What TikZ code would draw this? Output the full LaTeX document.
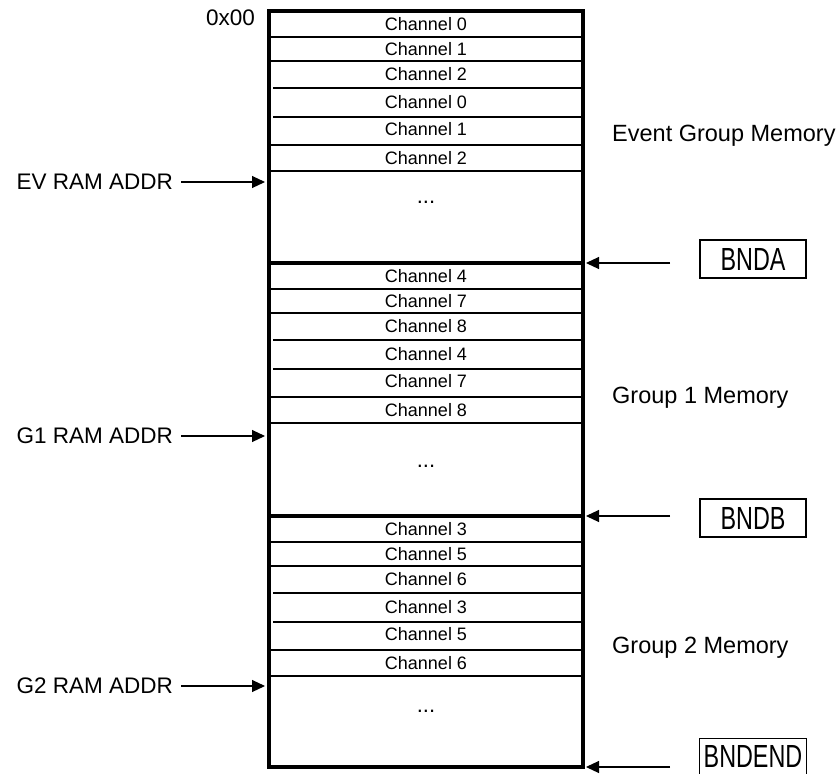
\documentclass[tikz,border=0pt]{standalone}
\usepackage{fontspec}
\setmainfont{Liberation Sans}
\newfontfamily\narrowfont[FakeStretch=0.73]{Liberation Sans}
\usetikzlibrary{arrows.meta}
\tikzset{
  chan/.style={font=\fontsize{18}{18}\selectfont, inner sep=0pt},
  memlbl/.style={font=\fontsize{23.5}{24}\selectfont, anchor=base west, inner sep=0pt},
  addrlbl/.style={font=\fontsize{22.5}{24}\selectfont, anchor=east, inner sep=0pt, outer xsep=8pt},
  bndbox/.style={draw, line width=1.1pt, minimum width=106pt, minimum height=38pt, inner sep=0pt, font=\narrowfont\fontsize{32}{32}\selectfont},
  border/.style={line width=3.5pt},
  rowline/.style={line width=2pt},
  ptr/.style={-{Triangle[length=13pt,width=12pt]}, line width=1.1pt},
}
\begin{document}
\begin{tikzpicture}[x=1pt, y=-1pt]
\useasboundingbox (0,0) rectangle (839,774);
%
% memory block
\draw[border] (269,11) rectangle (583,767);
\draw[border] (269,263) -- (583,263);
\draw[border] (269,516) -- (583,516);
%
% channel rows of the three groups
\foreach \g/\top/\ca/\cb/\cc in {ev/11/0/1/2, ga/263/4/7/8, gb/516/3/5/6} {
  \foreach \off/\xa/\xb in {26/269/583, 50/269/583, 77/273/583, 106/273/583, 134/267/581, 160/269/583}
    \draw[rowline] (\xa,\top+\off) -- (\xb,\top+\off);
  \node[chan] (\g-1) at (426,\top+13)  {Channel \ca};
  \node[chan] (\g-2) at (426,\top+38)  {Channel \cb};
  \node[chan] (\g-3) at (426,\top+63)  {Channel \cc};
  \node[chan] (\g-4) at (426,\top+91)  {Channel \ca};
  \node[chan] (\g-5) at (426,\top+118) {Channel \cb};
  \node[chan] (\g-6) at (426,\top+147) {Channel \cc};
}
%
\node[chan, font=\fontsize{22}{22}\selectfont, anchor=base] (ev-dots) at (426,203) {...};
\node[chan, font=\fontsize{22}{22}\selectfont, anchor=base] (ga-dots) at (426,467) {...};
\node[chan, font=\fontsize{22}{22}\selectfont, anchor=base] (gb-dots) at (426,712) {...};
%
\node[font=\fontsize{22.5}{24}\selectfont, anchor=east, inner sep=0pt] (start) at (255,18) {0x00};
%
% group names
\node[memlbl] (evname) at (612,141) {Event Group Memory};
\node[memlbl] (ganame) at (612,403) {Group 1 Memory};
\node[memlbl] (gbname) at (612,653) {Group 2 Memory};
%
% address pointers
\node[addrlbl] (evaddr) at (181,182) {EV RAM ADDR};
\node[addrlbl] (gaaddr) at (181,436) {G1 RAM ADDR};
\node[addrlbl] (gbaddr) at (181,686) {G2 RAM ADDR};
\coordinate (evin) at (265,182);
\coordinate (gain) at (265,436);
\coordinate (gbin) at (265,686);
\draw[ptr] (evaddr) -- (evin);
\draw[ptr] (gaaddr) -- (gain);
\draw[ptr] (gbaddr) -- (gbin);
%
% bounds
\node[bndbox] (bnda) at (753,259) {BNDA};
\node[bndbox] (bndb) at (753,518) {BNDB};
\node[bndbox, draw=none, minimum height=34pt] (bndend) at (753,756) {BNDEND};
\draw[line width=1.1pt] (bndend.south west) -- (bndend.north west) -- (bndend.north east) -- (bndend.south east);
\coordinate (atail) at (670,263);
\coordinate (btail) at (670,516);
\coordinate (etail) at (670,767);
\coordinate (ahead) at (586,263);
\coordinate (bhead) at (586,516);
\coordinate (ehead) at (586,767);
\draw[ptr] (atail) -- (ahead);
\draw[ptr] (btail) -- (bhead);
\draw[ptr] (etail) -- (ehead);
\end{tikzpicture}
\end{document}
